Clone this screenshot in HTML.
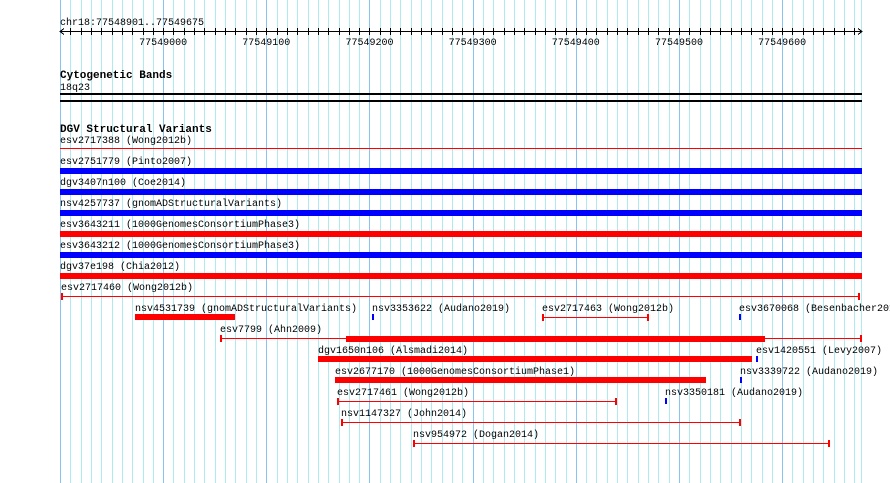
<!DOCTYPE html>
<html><head><meta charset="utf-8"><style>
html,body{margin:0;padding:0;background:#fff;}
svg{display:block;}
svg rect, svg line, svg path{shape-rendering:crispEdges;}
text{font-family:"Liberation Mono",monospace;font-size:10px;fill:#000;}
.b{font-weight:bold;font-size:11px;}
</style></head><body>
<svg id="c" width="890" height="483" xmlns="http://www.w3.org/2000/svg"></svg>
<script>
const START = 77548901;
const END = 77549675;
const majorTicks = [77549000, 77549100, 77549200, 77549300, 77549400, 77549500, 77549600];
const fixedNames = ["esv2717388 (Wong2012b)","esv2751779 (Pinto2007)","dgv3407n100 (Coe2014)","nsv4257737 (gnomADStructuralVariants)","esv3643211 (1000GenomesConsortiumPhase3)","esv3643212 (1000GenomesConsortiumPhase3)","dgv37e198 (Chia2012)"];
const fixedTypes = ["line","bar","bar","bar","bar","bar","bar"];
const fixedColors = ["red","blue","blue","blue","red","blue","red"];
const featNames = ["esv2717460 (Wong2012b)","nsv4531739 (gnomADStructuralVariants)","nsv3353622 (Audano2019)","esv2717463 (Wong2012b)","esv3670068 (Besenbacher2016)","esv7799 (Ahn2009)","dgv1650n106 (Alsmadi2014)","esv1420551 (Levy2007)","esv2677170 (1000GenomesConsortiumPhase1)","nsv3339722 (Audano2019)","esv2717461 (Wong2012b)","nsv3350181 (Audano2019)","nsv1147327 (John2014)","nsv954972 (Dogan2014)"];
const featStart = [0,72,301,466,657,154,249,674,266,658,268,585,271,341];
const featEnd = [774,169,303,570,659,776,670,676,625,660,539,587,659,745];
const featType = ["line","bar","tick","line","tick","line","bar","tick","bar","tick","line","tick","line","line"];
const featRow = [0,1,1,1,1,2,3,3,4,4,5,5,6,7];
const featColor = ["red","red","blue","red","blue","red","red","blue","red","blue","red","blue","red","red"];
const thickStart = [null,null,null,null,null,276,null,null,null,null,null,null,null,null];
const thickEnd = [null,null,null,null,null,682,null,null,null,null,null,null,null,null];

const svg = document.getElementById('c');
const NS = 'http://www.w3.org/2000/svg';
const L = 61, PX = 1.0317;
const x = bp => L + (bp - START) * PX;
const xo = o => L + o * PX;
function mk(tag, attrs, txt){const e=document.createElementNS(NS,tag);for(const k in attrs)e.setAttribute(k,attrs[k]);if(txt!==undefined)e.textContent=txt;svg.appendChild(e);return e;}

for(let bp=Math.ceil(START/10)*10; bp<=END; bp+=10){
  const major = bp%100===0;
  const xx = Math.round(x(bp))+0.5;
  const g = mk('line',{x1:xx,x2:xx,y1:0,y2:483,stroke:major?'#88c4f0':'#aeeaf0','stroke-width':1});
  
  
}
let gl = mk('line',{x1:60.5,x2:60.5,y1:0,y2:483,stroke:'#88c4f0'});

gl = mk('line',{x1:861.5,x2:861.5,y1:0,y2:483,stroke:'#aeeaf0'});


let t = mk('text',{x:60,y:25},'chr18:77548901..77549675');

let r = mk('line',{x1:60,x2:862,y1:31.5,y2:31.5,stroke:'#000'});

let a = mk('path',{d:'M64,28.5 L60,31.5 L64,34.5 M858,28.5 L862,31.5 L858,34.5',stroke:'#000',fill:'none'});

for(let bp=Math.ceil(START/10)*10; bp<=END; bp+=10){
  const tk = mk('line',{x1:Math.round(x(bp))+0.5,x2:Math.round(x(bp))+0.5,y1:28,y2:35,stroke:'#000'});
  
}
majorTicks.forEach(bp=>{
  const tl = mk('text',{x:x(bp),y:45,'text-anchor':'middle'},String(bp));
  
});

t = mk('text',{x:60,y:78,class:'b'},'Cytogenetic Bands');

t = mk('text',{x:60,y:90},'18q23');

[93,100].forEach(y=>{const l=mk('rect',{x:60,y:y,width:802,height:2,fill:'#000'});
  });

t = mk('text',{x:60,y:132,class:'b'},'DGV Structural Variants');

const col = c => c==='red'?'#ff0000':'#0000ff';
fixedNames.forEach((n,i)=>{
  const top = 147 + i*21;
  const lb = mk('text',{x:60,y:top-4},n);
  
  let m;
  if(fixedTypes[i]==='line') m = mk('rect',{x:60,y:148,width:802,height:1,fill:col(fixedColors[i])});
  else m = mk('rect',{x:60,y:168+(i-1)*21,width:802,height:6,fill:col(fixedColors[i])});
  
});

featNames.forEach((n,i)=>{
  const row = featRow[i];
  const mid = 296 + row*21;
  const x1 = Math.round(xo(featStart[i])), x2 = Math.round(xo(featEnd[i]));
  const lb = mk('text',{x:x1,y:mid-6},n);
  
  const c = col(featColor[i]);
  if(featType[i]==='bar'){
    const m = mk('rect',{x:x1,y:mid-3,width:x2-x1,height:6,fill:c});
    
  } else if(featType[i]==='tick'){
    const m = mk('rect',{x:x1,y:mid-3,width:Math.max(2,x2-x1),height:6,fill:c});
    
  } else {
    const m = mk('rect',{x:x1,y:mid,width:x2-x1,height:1,fill:c});
    
    const c1 = mk('rect',{x:x1,y:mid-3,width:2,height:7,fill:c});
    
    const c2 = mk('rect',{x:x2-2,y:mid-3,width:2,height:7,fill:c});
    
    if(thickStart[i]!==null){
      const ts = Math.round(xo(thickStart[i])), te = Math.round(xo(thickEnd[i]));
      const th = mk('rect',{x:ts,y:mid-2,width:te-ts,height:6,fill:c});
      
    }
  }
});
</script>
</body></html>
